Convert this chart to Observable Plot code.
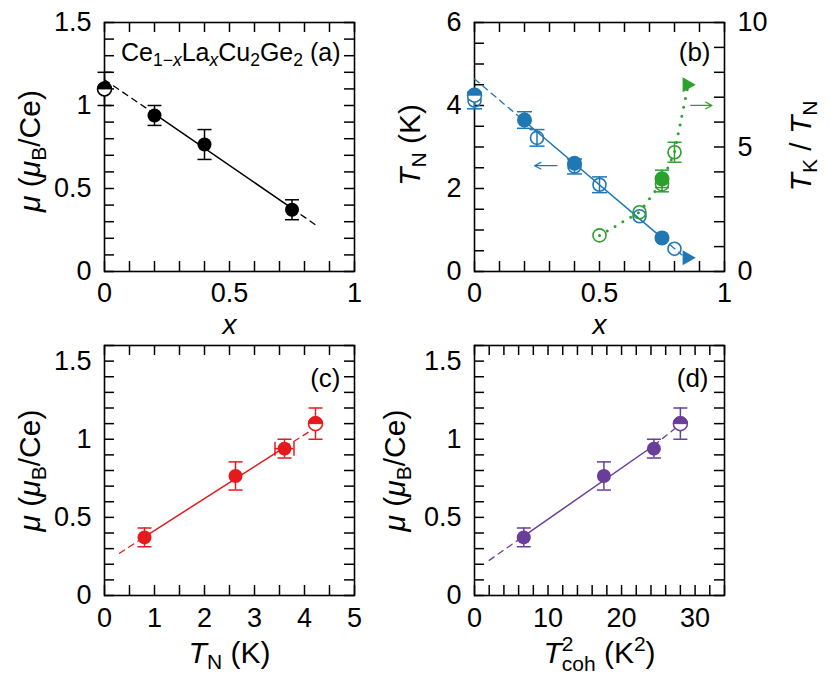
<!DOCTYPE html>
<html><head><meta charset="utf-8">
<script src="https://cdn.jsdelivr.net/npm/d3@7"></script>
<script src="https://cdn.jsdelivr.net/npm/@observablehq/plot@0.6"></script>
<style>
body{margin:0;background:#fff;}
#chart{position:relative;width:830px;height:684px;background:#fff;}
#chart svg{position:absolute;left:0;top:0;}
</style></head><body><div id="chart"></div>
<script>
// ---------- data ----------
// magnetic moment for x = 0.2, 0.4, 0.75 (shared by panels a, c, d)
const muVals = [0.94, 0.765, 0.372];
const muErr = [0.06, 0.09, 0.06];
const muHalf = [1.10];
const muHalfErr = [0.10];
// panel (a): La concentration
const xLa = [0.2, 0.4, 0.75];
const xLaHalf = [0];
const fitAx = [0, 0.2, 0.75, 0.85];
const fitAy = [1.155, 0.95, 0.38, 0.275];
// panel (b): T_N vs x (left axis)
const xTnFilled = [0.2, 0.4, 0.75];
const tnFilled = [3.65, 2.61, 0.81];
const tnFilledErr = [0.2, 0, 0];
const xTnHalf = [0];
const tnHalf = [4.25];
const xTnOpen = [0, 0.25, 0.4, 0.5, 0.66, 0.8];
const tnOpen = [4.12, 3.22, 2.53, 2.09, 1.33, 0.55];
const tnOpenErr = [0.2, 0.2, 0.18, 0.19, 0, 0];
const xTri = [0.855];
const tnTri = [0.33];
const fitBx = [0, 0.2, 0.75, 0.83];
const fitBy = [4.64, 3.62, 0.81, 0.4];
// panel (b): T_K/T_N vs x (right axis)
const xRatioOpen = [0.5, 0.66, 0.75, 0.8];
const ratioOpen = [1.45, 2.38, 3.5, 4.79];
const ratioOpenErr = [0, 0, 0.3, 0.4];
const xRatioFilled = [0.75];
const ratioFilled = [3.72];
const ratioFilledErr = [0.35];
const ratioTri = [7.5];
const dotLineX = [0.5, 0.66, 0.75, 0.8, 0.855];
const dotLineY = [1.45, 2.38, 3.6, 4.8, 7.5];
// arrows (annotation positions)
const arrowBlue = [{x1: 0.33, x2: 0.24, y: 2.55}];
const arrowGreen = [{x1: 0.865, x2: 0.95, y: 6.67}];
// panel (c): T_N for x = 0.2, 0.4, 0.75
const tnMu = [3.6, 2.62, 0.8];
const tnMuXErr = [0.19, 0, 0];
const tnMuHalf = [4.22];
const fitCx = [0.3, 0.8, 3.6, 4.2];
const fitCy = [0.27, 0.375, 0.948, 1.07];
// panel (d): T_coh^2 for x = 0.2, 0.4, 0.75
const tcoh2 = [24.4, 17.6, 6.7];
const tcoh2Half = [28.0];
const fitDx = [2.0, 6.7, 24.4, 27.3];
const fitDy = [0.225, 0.38, 0.96, 1.07];
// tick labels
const ticksA_x = [0, 0.5, 1];
const ticksA_y = [0, 0.5, 1, 1.5];
const ticksB_yL = [0, 2, 4, 6];
const ticksB_yR = [0, 5, 10];
const ticksC_x = [0, 1, 2, 3, 4, 5];
const ticksD_x = [0, 10, 20, 30];
// labels
const labMu = "μ (μB/Ce)";
const labX = "x";
const labTN = "TN (K)";
const labRatio = "TK / TN";
const labTcoh = "T2coh (K2)";
const labFormula = "Ce1−xLaxCu2Ge2 (a)";

// ---------- styling helpers ----------
const W = 830, H = 684;
const FONT = "'Liberation Sans', Arial, Helvetica, sans-serif";
const TICKF = 27, TITLEF = 30, TL = 10;
const BLUE = "#1f77b4", GREEN = "#2ca02c", RED = "#e41a1c", PURPLE = "#6a3d9a", BLACK = "#000";

const capH = {draw(c, s) { const r = Math.sqrt(s / Math.PI); c.moveTo(-r, 0); c.lineTo(r, 0); }};
const capV = {draw(c, s) { const r = Math.sqrt(s / Math.PI); c.moveTo(0, -r); c.lineTo(0, r); }};
const halfTop = {draw(c, s) { const r = Math.sqrt(s / Math.PI); c.moveTo(r, 0); c.arc(0, 0, r, 0, Math.PI, true); c.closePath(); }};
const triRight = {draw(c, s) { const r = Math.sqrt(s / Math.PI); c.moveTo(r, 0); c.lineTo(-0.75 * r, -r); c.lineTo(-0.75 * r, r); c.closePath(); }};

function rows(xs, ys, es = [], xes = []) {
  return xs.map((x, i) => ({x, y: ys[i], e: es[i] || 0, xe: xes[i] || 0}));
}
function seg(xs, ys, i0, i1) { return rows(xs.slice(i0, i1 + 1), ys.slice(i0, i1 + 1)); }

function fitLine(xs, ys, color) {
  return [
    Plot.line(seg(xs, ys, 0, 1), {x: "x", y: "y", stroke: color, strokeWidth: 1.3, strokeDasharray: "6,5"}),
    Plot.line(seg(xs, ys, 1, 2), {x: "x", y: "y", stroke: color, strokeWidth: 1.5}),
    Plot.line(seg(xs, ys, 2, 3), {x: "x", y: "y", stroke: color, strokeWidth: 1.3, strokeDasharray: "6,5"})
  ];
}
function errY(data, color, cap = 7) {
  const d = data.filter(r => r.e > 0);
  return [
    Plot.ruleX(d, {x: "x", y1: r => r.y - r.e, y2: r => r.y + r.e, stroke: color, strokeWidth: 1.5}),
    Plot.dot(d, {x: "x", y: r => r.y - r.e, symbol: capH, r: cap, stroke: color, strokeWidth: 1.5, fill: "none"}),
    Plot.dot(d, {x: "x", y: r => r.y + r.e, symbol: capH, r: cap, stroke: color, strokeWidth: 1.5, fill: "none"})
  ];
}
function errX(data, color, cap = 7) {
  const d = data.filter(r => r.xe > 0);
  return [
    Plot.ruleY(d, {y: "y", x1: r => r.x - r.xe, x2: r => r.x + r.xe, stroke: color, strokeWidth: 1.5}),
    Plot.dot(d, {y: "y", x: r => r.x - r.xe, symbol: capV, r: cap, stroke: color, strokeWidth: 1.5, fill: "none"}),
    Plot.dot(d, {y: "y", x: r => r.x + r.xe, symbol: capV, r: cap, stroke: color, strokeWidth: 1.5, fill: "none"})
  ];
}
function filled(data, color, r = 7) { return Plot.dot(data, {x: "x", y: "y", r, fill: color, stroke: "none"}); }
function open(data, color, r = 6.5) { return Plot.dot(data, {x: "x", y: "y", r, fill: "none", stroke: color, strokeWidth: 1.6}); }
function half(data, color, r = 7) {
  return [
    Plot.dot(data, {x: "x", y: "y", r, fill: "white", stroke: color, strokeWidth: 1.5}),
    Plot.dot(data, {x: "x", y: "y", r, symbol: halfTop, fill: color, stroke: color, strokeWidth: 1})
  ];
}
// inward ticks, drawn as short rules from the frame edge
function inTicks(frame, side, ticks) {
  const [l, t, r, b] = frame;
  const fw = r - l, fh = b - t;
  const o = {stroke: "#000", strokeWidth: 1.5};
  if (side === "bottom") return Plot.ruleX(ticks, {x: d => d, insetTop: fh - TL, ...o});
  if (side === "top") return Plot.ruleX(ticks, {x: d => d, insetBottom: fh - TL, ...o});
  if (side === "left") return Plot.ruleY(ticks, {y: d => d, insetRight: fw - TL, ...o});
  return Plot.ruleY(ticks, {y: d => d, insetLeft: fw - TL, ...o});
}
function tickLabels(k, anchor, ticks, pad = 11) {
  const A = k === "x" ? Plot.axisX : Plot.axisY;
  return A({anchor, ticks, tickSize: 0, tickPadding: pad, tickFormat: d => String(d), label: null, fontSize: TICKF});
}
function title(text, opts) {
  return Plot.text([text], {fontSize: TITLEF, lineAnchor: "bottom", textAnchor: "middle", ...opts});
}
function panel(frame, xDomain, yDomain, marks) {
  const [l, t, r, b] = frame;
  return Plot.plot({
    width: W, height: H,
    marginLeft: l, marginTop: t, marginRight: W - r, marginBottom: H - b,
    x: {domain: xDomain, axis: null}, y: {domain: yDomain, axis: null},
    style: {fontFamily: FONT, fontSize: TICKF + "px", background: "transparent", overflow: "visible", color: "#000"},
    marks
  });
}
const range = (a, b, s) => d3.range(a, b + s / 2, s);

// ---------- panel (a) ----------
const FA = [104, 22, 354, 271];
const pA = panel(FA, [0, 1], [0, 1.5], [
  Plot.frame({strokeWidth: 1.6}),
  inTicks(FA, "bottom", range(0, 1, 0.1)), inTicks(FA, "top", range(0, 1, 0.1)),
  inTicks(FA, "left", range(0, 1.5, 0.1)), inTicks(FA, "right", range(0, 1.5, 0.1)),
  tickLabels("x", "bottom", ticksA_x), tickLabels("y", "left", ticksA_y, 13),
  fitLine(fitAx, fitAy, BLACK),
  errY(rows(xLa, muVals, muErr), BLACK), errY(rows(xLaHalf, muHalf, muHalfErr), BLACK),
  filled(rows(xLa, muVals), BLACK), half(rows(xLaHalf, muHalf), BLACK),
  title(labMu, {frameAnchor: "left", rotate: -90, dx: -65, dy: 4}),
  title(labX, {frameAnchor: "bottom", dy: 62, fontSize: 28}),
  Plot.text([labFormula], {frameAnchor: "top-right", textAnchor: "end", lineAnchor: "middle", dx: -14, dy: 30, fontSize: 25})
]);

// ---------- panel (b) left ----------
const FB = [474, 22, 724, 271];
const pB = panel(FB, [0, 1], [0, 6], [
  Plot.frame({strokeWidth: 1.6}),
  inTicks(FB, "bottom", range(0, 1, 0.1)), inTicks(FB, "top", range(0, 1, 0.1)),
  inTicks(FB, "left", range(0, 6, 0.5)),
  tickLabels("x", "bottom", ticksA_x), tickLabels("y", "left", ticksB_yL, 13),
  fitLine(fitBx, fitBy, BLUE),
  errY(rows(xTnFilled, tnFilled, tnFilledErr), BLUE, 7.5),
  errY(rows(xTnOpen, tnOpen, tnOpenErr), BLUE, 7.5),
  open(rows(xTnOpen, tnOpen), BLUE),
  filled(rows(xTnFilled, tnFilled), BLUE, 7.5),
  half(rows(xTnHalf, tnHalf), BLUE),
  Plot.dot(rows(xTri, tnTri), {x: "x", y: "y", r: 7.5, symbol: triRight, fill: BLUE}),
  Plot.arrow(arrowBlue, {x1: "x1", x2: "x2", y1: "y", y2: "y", stroke: BLUE, strokeWidth: 1.2, headLength: 9, headAngle: 55}),
  title(labTN, {frameAnchor: "left", rotate: -90, dx: -55, dy: -2}),
  title(labX, {frameAnchor: "bottom", dy: 62, fontSize: 28}),
  Plot.text(["(b)"], {frameAnchor: "top-right", textAnchor: "end", lineAnchor: "middle", dx: -14, dy: 30, fontSize: 26})
]);

// ---------- panel (b) right axis ----------
const pB2 = panel(FB, [0, 1], [0, 10], [
  inTicks(FB, "right", range(0, 10, 1)),
  tickLabels("y", "right", ticksB_yR, 13),
  Plot.line(rows(dotLineX, dotLineY), {x: "x", y: "y", stroke: GREEN, strokeWidth: 3, strokeDasharray: "0,9", strokeLinecap: "round"}),
  errY(rows(xRatioOpen, ratioOpen, ratioOpenErr), GREEN, 7),
  errY(rows(xRatioFilled, ratioFilled, ratioFilledErr), GREEN, 7),
  open(rows(xRatioOpen, ratioOpen), GREEN),
  filled(rows(xRatioFilled, ratioFilled), GREEN, 7.5),
  Plot.dot(rows(xTri, ratioTri), {x: "x", y: "y", r: 7.5, symbol: triRight, fill: GREEN}),
  Plot.arrow(arrowGreen, {x1: "x1", x2: "x2", y1: "y", y2: "y", stroke: GREEN, strokeWidth: 1.2, headLength: 9, headAngle: 55}),
  title(labRatio, {frameAnchor: "right", rotate: -90, dx: 86, dy: -1})
]);

// ---------- panel (c) ----------
const FC = [104, 345, 354, 595];
const pC = panel(FC, [0, 5], [0, 1.6], [
  Plot.frame({strokeWidth: 1.6}),
  inTicks(FC, "bottom", range(0, 5, 0.5)), inTicks(FC, "top", range(0, 5, 0.5)),
  inTicks(FC, "left", range(0, 1.6, 0.1)), inTicks(FC, "right", range(0, 1.6, 0.1)),
  tickLabels("x", "bottom", ticksC_x, 12), tickLabels("y", "left", ticksA_y, 13),
  fitLine(fitCx, fitCy, RED),
  errY(rows(tnMu, muVals, muErr), RED), errX(rows(tnMu, muVals, muErr, tnMuXErr), RED),
  errY(rows(tnMuHalf, muHalf, muHalfErr), RED),
  filled(rows(tnMu, muVals), RED), half(rows(tnMuHalf, muHalf), RED),
  title(labMu, {frameAnchor: "left", rotate: -90, dx: -65, dy: 0}),
  title(labTN, {frameAnchor: "bottom", dy: 67}),
  Plot.text(["(c)"], {frameAnchor: "top-right", textAnchor: "end", lineAnchor: "middle", dx: -14, dy: 33, fontSize: 26})
]);

// ---------- panel (d) ----------
const FD = [474, 345, 724, 595];
const pD = panel(FD, [0, 34], [0, 1.6], [
  Plot.frame({strokeWidth: 1.6}),
  inTicks(FD, "bottom", range(0, 34, 2)), inTicks(FD, "top", range(0, 34, 2)),
  inTicks(FD, "left", range(0, 1.6, 0.1)), inTicks(FD, "right", range(0, 1.6, 0.1)),
  tickLabels("x", "bottom", ticksD_x, 12), tickLabels("y", "left", ticksA_y, 13),
  fitLine(fitDx, fitDy, PURPLE),
  errY(rows(tcoh2, muVals, muErr), PURPLE), errY(rows(tcoh2Half, muHalf, muHalfErr), PURPLE),
  filled(rows(tcoh2, muVals), PURPLE), half(rows(tcoh2Half, muHalf), PURPLE),
  title(labMu, {frameAnchor: "left", rotate: -90, dx: -70, dy: 0}),
  title(labTcoh, {frameAnchor: "bottom", dy: 67}),
  Plot.text(["(d)"], {frameAnchor: "top-right", textAnchor: "end", lineAnchor: "middle", dx: -16, dy: 33, fontSize: 26})
]);

const chart = document.getElementById("chart");
[pA, pB, pB2, pC, pD].forEach(s => chart.appendChild(s));

// ---------- rich text (sub/superscripts, italics) ----------
const SUB = 0.22, SUP = -0.4, Z = 0.7;
const rich = {
  [labMu]: [{t: "μ", i: 1}, {t: " ("}, {t: "μ", i: 1}, {t: "B", s: SUB, z: Z}, {t: "/Ce)"}],
  [labX]: [{t: "x", i: 1}],
  [labTN]: [{t: "T", i: 1}, {t: "N", s: SUB, z: Z}, {t: " (K)"}],
  [labRatio]: [{t: "T", i: 1}, {t: "K", s: SUB, z: Z}, {t: " / "}, {t: "T", i: 1}, {t: "N", s: SUB, z: Z}],
  [labTcoh]: [{t: "T", i: 1}, {t: "2", s: SUP, z: Z}, {t: "coh", s: SUB + 0.05, z: Z, dx: -0.39}, {t: " (K"}, {t: "2", s: SUP, z: Z}, {t: ")"}],
  [labFormula]: [{t: "Ce"}, {t: "1−", s: SUB, z: Z}, {t: "x", s: SUB, z: Z, i: 1}, {t: "La"}, {t: "x", s: SUB, z: Z, i: 1},
    {t: "Cu"}, {t: "2", s: SUB, z: Z}, {t: "Ge"}, {t: "2", s: SUB, z: Z}, {t: " (a)"}]
};
const NS = "http://www.w3.org/2000/svg";
chart.querySelectorAll("text").forEach(el => {
  const segs = rich[el.textContent];
  if (!segs) return;
  const fs = parseFloat(getComputedStyle(el).fontSize);
  while (el.firstChild) el.removeChild(el.firstChild);
  let cur = 0;
  for (const sg of segs) {
    const ts = document.createElementNS(NS, "tspan");
    ts.textContent = sg.t;
    const target = (sg.s || 0) * fs;
    if (target !== cur) ts.setAttribute("dy", (target - cur).toFixed(2));
    cur = target;
    if (sg.z) ts.setAttribute("font-size", (sg.z * fs).toFixed(2));
    if (sg.i) ts.setAttribute("font-style", "italic");
    if (sg.dx) ts.setAttribute("dx", (sg.dx * fs).toFixed(2));
    el.appendChild(ts);
  }
});
</script></body></html>
